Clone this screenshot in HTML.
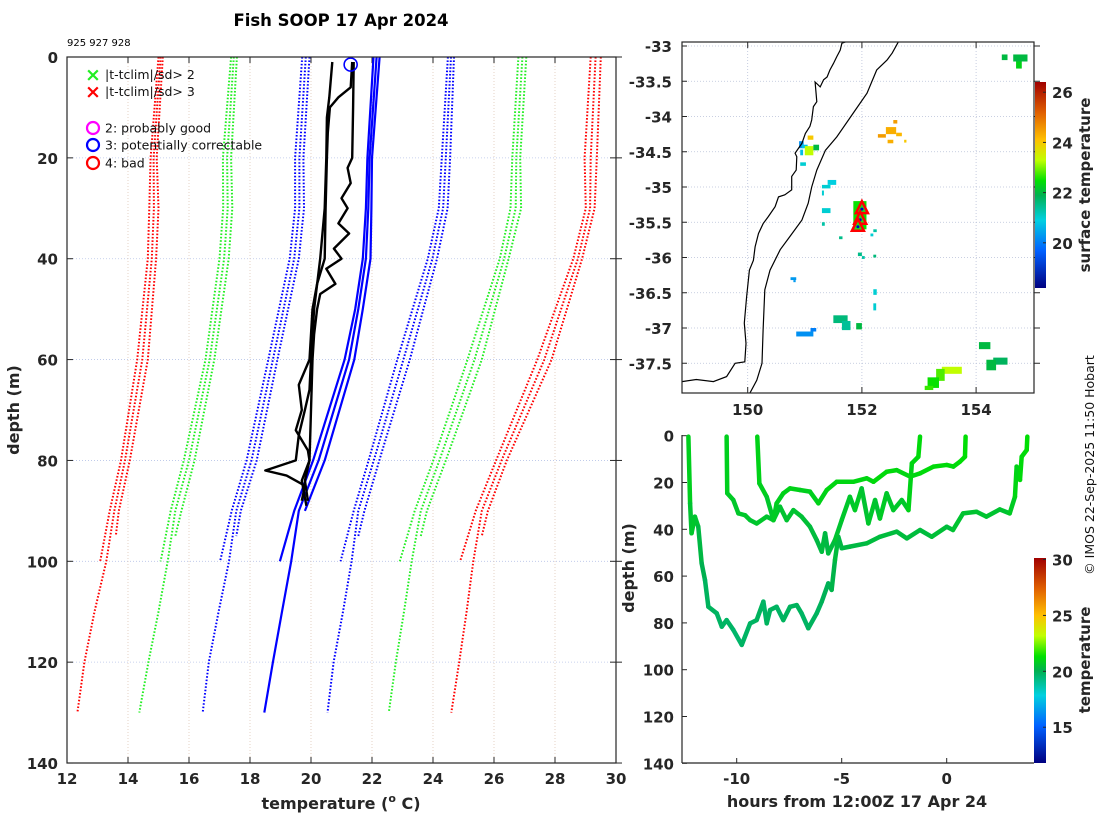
<!DOCTYPE html>
<html><head><meta charset="utf-8"><style>
html,body{margin:0;padding:0;background:#fff;}
svg{display:block;font-family:"DejaVu Sans","Liberation Sans",sans-serif;}
.tk{font-size:15px;font-weight:bold;fill:#262626;}
</style></head><body>
<svg id="fig" width="1100" height="820" viewBox="0 0 1100 820" xmlns="http://www.w3.org/2000/svg">
<defs>
<clipPath id="mainclip"><rect x="67" y="57" width="549" height="706"/></clipPath>
<clipPath id="mapclip"><rect x="682" y="42" width="352" height="351"/></clipPath>
<linearGradient id="cbgrad" x1="0" y1="1" x2="0" y2="0">
<stop offset="0" stop-color="#000080"/><stop offset="0.18" stop-color="#0060ff"/><stop offset="0.33" stop-color="#00d0e0"/><stop offset="0.45" stop-color="#00b050"/><stop offset="0.52" stop-color="#00e000"/><stop offset="0.62" stop-color="#c0ff00"/><stop offset="0.72" stop-color="#ffc000"/><stop offset="0.85" stop-color="#e06000"/><stop offset="1" stop-color="#a00000"/>
</linearGradient>
</defs>
<text x="341" y="26" text-anchor="middle" font-size="16.5" font-weight="bold" fill="#000">Fish SOOP 17 Apr 2024</text>
<text x="67" y="46" font-size="10" fill="#000">925 927 928</text>
<g id="main"></g>
<g id="map"></g>
<g id="ts"></g>
<text transform="translate(1094,465) rotate(-90)" text-anchor="middle" font-size="12.5" fill="#111">© IMOS 22-Sep-2025 11:50 Hobart</text>
</svg>
<script>
// ---------- main profile chart data ----------
const depthTicks=[0,20,40,60,80,100,120,140];
const tempTicks=[12,14,16,18,20,22,24,26,28,30];
const dLong=[0,20,30,40,60,80,90,100,110,120,130];
const dShortA=[0,20,30,40,60,80,90,100];
const dShortC=[0,20,30,40,60,80,90,95];
const redLeftA=[15.0,14.74,14.7,14.65,14.3,13.77,13.4,13.09];
const redLeftB=[15.07,14.84,14.85,14.78,14.47,13.9,13.55,13.29,12.9,12.57,12.34];
const redLeftC=[15.14,14.94,15.0,14.92,14.65,14.06,13.7,13.6];
const greenLeftA=[17.38,17.11,17.12,17.0,16.54,15.83,15.4,15.07];
const greenLeftB=[17.47,17.25,17.27,17.15,16.68,16.0,15.55,15.3,15.0,14.67,14.37];
const greenLeftC=[17.57,17.38,17.42,17.3,16.83,16.18,15.75,15.55];
const blueLeftA=[19.71,19.48,19.48,19.3,18.6,17.89,17.4,17.02];
const blueLeftB=[19.83,19.62,19.62,19.45,18.75,18.05,17.55,17.31,16.97,16.65,16.45];
const blueLeftC=[19.95,19.75,19.77,19.6,18.9,18.22,17.7,17.55];
const blueRightA=[24.49,24.29,24.19,23.83,22.83,21.89,21.4,20.97];
const blueRightB=[24.59,24.42,24.33,23.98,23.03,22.06,21.55,21.33,21.05,20.74,20.54];
const blueRightC=[24.69,24.56,24.48,24.13,23.24,22.24,21.75,21.55];
const greenRightA=[26.8,26.6,26.54,26.19,25.13,24.01,23.4,22.91];
const greenRightB=[26.93,26.73,26.71,26.33,25.36,24.21,23.6,23.3,23.05,22.78,22.55];
const greenRightC=[27.06,26.86,26.89,26.48,25.6,24.42,23.8,23.6];
const redRightA=[29.17,28.97,29.01,28.6,27.42,26.07,25.4,24.89];
const redRightB=[29.33,29.17,29.15,28.75,27.65,26.25,25.6,25.32,25.1,24.86,24.6];
const redRightC=[29.5,29.37,29.3,28.89,27.89,26.42,25.8,25.6];
const dSolidA=[0,20,30,40,50,60,80,90,100];
const dSolidB=[0,20,30,40,50,60,80,90,100,110,120,130];
const dSolidC=[0,20,30,40,50,60,80,90];
const solidA=[22.05,21.85,21.8,21.7,21.45,21.1,20.07,19.45,18.98];
const solidB=[22.15,21.92,21.88,21.8,21.55,21.25,20.25,19.6,19.35,19.05,18.75,18.47];
const solidC=[22.25,22.0,21.98,21.95,21.7,21.42,20.45,19.8];
const p1Depth=[1,8,12,20,30,40,50,60,66,70,75,80,82,83,85,88];
const p1Temp=[20.7,20.6,20.52,20.5,20.45,20.3,20.1,20.0,19.95,19.8,19.6,19.5,18.5,19.2,19.8,19.7];
const p2Depth=[1,6,8,10,15,20,30,40,45,50,55,60,65,70,74,78,80,84,89];
const p2Temp=[21.35,21.3,20.9,20.62,20.55,20.52,20.48,20.45,20.2,20.05,20.0,19.95,19.6,19.7,19.5,19.9,19.95,19.7,19.85];
const p3Depth=[1,10,20,22,25,28,30,33,35,38,40,42,45,47,50,55,60,70,80,84,88];
const p3Temp=[21.4,21.38,21.35,21.2,21.3,21.0,21.2,20.9,21.25,20.75,21.0,20.5,20.8,20.3,20.2,20.1,20.05,20.0,19.95,19.8,19.9];
const flagDepth=[1.5];
const flagTemp=[21.3];

// ---------- map data ----------
const latTicks=[-33,-33.5,-34,-34.5,-35,-35.5,-36,-36.5,-37,-37.5];
const lonTicks=[150,152,154];
const coastLon=[148.85,149.1,149.4,149.63,149.78,149.95,149.97,149.94,149.98,150.03,150.1,150.13,150.19,150.27,150.36,150.48,150.54,150.65,150.77,150.77,150.85,150.86,150.83,150.95,151.01,151.09,151.12,151.15,151.21,151.18,151.27,151.33,151.39,151.44,151.5,151.56,151.62,151.65,151.72];
const coastLat=[-37.76,-37.73,-37.76,-37.69,-37.5,-37.48,-37.22,-36.93,-36.56,-36.18,-36.04,-35.85,-35.66,-35.52,-35.42,-35.28,-35.14,-35.11,-35.04,-34.85,-34.76,-34.57,-34.52,-34.38,-34.24,-34.14,-34.05,-33.86,-33.79,-33.51,-33.58,-33.48,-33.44,-33.34,-33.25,-33.15,-33.06,-32.96,-32.94];
const isoLon=[150.04,150.16,150.25,150.27,150.3,150.39,150.57,150.74,150.95,151.06,151.12,151.21,151.36,151.56,151.85,152.09,152.26,152.44,152.53,152.64];
const isoLat=[-37.92,-37.74,-37.5,-37.03,-36.46,-36.18,-35.89,-35.7,-35.47,-35.23,-35.0,-34.76,-34.48,-34.29,-33.95,-33.67,-33.34,-33.2,-33.1,-32.94];
const sstLon0=[154.45,154.65,154.7,152.55,152.42,152.28,152.6,152.45,152.74,151.05,150.9,150.95,151.0,151.15,150.92,150.92,151.4,151.3,151.3,151.3,151.3,151.85,151.6,152.2,152.15,151.93,152.0,152.2,150.75,150.8,152.2,152.2,151.5,151.65,151.9,150.85,151.1,153.4,153.3,153.15,153.1,154.05,154.3,154.18];
const sstLon1=[154.55,154.9,154.8,152.62,152.6,152.42,152.7,152.55,152.78,151.15,150.98,151.05,151.15,151.25,150.97,151.02,151.55,151.45,151.33,151.45,151.35,152.08,151.66,152.26,152.2,152.0,152.05,152.25,150.85,150.84,152.26,152.25,151.75,151.8,152.0,151.15,151.2,153.75,153.45,153.35,153.25,154.25,154.55,154.35];
const sstLat0=[-33.12,-33.12,-33.22,-34.05,-34.15,-34.25,-34.23,-34.33,-34.33,-34.27,-34.35,-34.4,-34.42,-34.4,-34.47,-34.65,-34.9,-34.97,-35.05,-35.3,-35.5,-35.2,-35.7,-35.6,-35.66,-35.93,-35.98,-35.96,-36.28,-36.32,-36.45,-36.65,-36.82,-36.9,-36.93,-37.05,-37.0,-37.55,-37.58,-37.7,-37.82,-37.2,-37.42,-37.45];
const sstLat1=[-33.2,-33.22,-33.32,-34.1,-34.25,-34.3,-34.28,-34.38,-34.37,-34.33,-34.45,-34.45,-34.55,-34.48,-34.55,-34.7,-34.97,-35.02,-35.12,-35.37,-35.55,-35.6,-35.74,-35.64,-35.7,-35.98,-36.02,-36.0,-36.32,-36.35,-36.53,-36.75,-36.93,-37.03,-37.02,-37.12,-37.05,-37.65,-37.75,-37.85,-37.88,-37.3,-37.52,-37.6];
const sstTemp=[22,22,22.3,24.5,24.3,24.5,24.2,24.3,24,24,20.2,20.8,23.3,22,20.7,21,20.9,21,21,21,21.3,22.5,21.5,21.3,21,21.5,21.3,21.6,20.3,20.3,21,21,21.6,21.4,22,20.2,20,23.3,22.8,22.5,22.7,22,21.8,22];
const shipLon=[152.0,151.97,151.93];
const shipLat=[-35.3,-35.45,-35.55];
const mapCbTicks=[20,22,24,26];

// ---------- time-depth data ----------
const tsDepthTicks=[0,20,40,60,80,100,120,140];
const hourTicks=[-10,-5,0];
const cbTicks=[15,20,25,30];
const s1Hour=[-12.3,-12.22,-12.15,-11.99,-11.83,-11.67,-11.51,-11.35,-10.95,-10.71,-10.48,-10.16,-9.76,-9.36,-9.05,-8.73,-8.57,-8.41,-8.1,-7.78,-7.46,-7.14,-6.91,-6.59,-6.19,-5.95,-5.64,-5.48,-5.32,-5.16,-5.0,-4.61,-3.81,-3.18,-2.38,-1.9,-1.27,-0.71,0.0,0.3,0.78,1.42,1.89,2.53,3.0,3.25,3.33,3.49,3.57,3.81,3.84];
const s1Depth=[0.4,28.9,41.7,34.6,38.9,54.5,61.7,73.1,75.9,81.6,78.8,83.0,89.4,80.2,78.8,70.9,80.2,74.5,73.1,78.8,73.1,72.4,75.9,82.3,75.9,70.9,63.1,65.9,53.1,43.2,48.1,47.4,46.0,43.2,41.0,43.9,40.3,43.2,38.9,40.3,33.2,32.5,34.6,31.5,33.2,26.1,13.2,18.9,9.0,6.1,0.4];
const s1Temp=[21,20.8,20.5,20.6,20.5,20.2,20.0,19.8,19.8,19.7,19.7,19.7,19.6,19.7,19.7,19.8,19.7,19.8,19.8,19.7,19.8,19.8,19.8,19.7,19.8,19.8,19.9,19.9,20.1,20.3,20.2,20.2,20.2,20.3,20.3,20.3,20.3,20.3,20.4,20.3,20.5,20.5,20.5,20.5,20.5,20.7,21,20.9,21.1,21.1,21.2];
const s2Hour=[-10.48,-10.45,-10.16,-9.92,-9.6,-9.36,-9.05,-8.57,-8.25,-7.94,-7.62,-7.3,-6.91,-6.51,-6.19,-5.95,-5.79,-5.64,-5.32,-5.0,-4.61,-4.37,-4.05,-3.73,-3.41,-3.18,-2.86,-2.54,-2.14,-1.82,-1.66,-1.35,-1.27];
const s2Depth=[0.4,24.6,27.5,33.2,34.0,36.1,37.5,34.6,36.1,30.3,36.1,31.8,34.6,38.9,44.6,49.6,41.7,50.3,44.6,36.1,26.1,31.8,22.5,37.5,27.5,35.4,24.6,31.8,27.5,31.8,11.8,9.0,0.4];
const s2Temp=[21.2,20.8,20.7,20.6,20.6,20.6,20.5,20.6,20.5,20.6,20.5,20.5,20.5,20.4,20.3,20.2,20.3,20.2,20.3,20.5,20.6,20.6,20.7,20.5,20.6,20.5,20.7,20.6,20.6,20.6,20.9,21,21.1];
const s3Hour=[-9.02,-8.92,-8.57,-8.25,-8.1,-7.78,-7.46,-6.99,-6.51,-6.11,-5.71,-5.24,-4.45,-3.81,-3.49,-2.86,-2.38,-1.74,-1.27,-0.63,0.0,0.32,0.63,0.87,0.9];
const s3Depth=[0.4,20.4,26.1,36.1,28.9,24.6,22.5,23.2,23.9,28.9,23.2,19.7,19.7,18.2,19.7,15.4,14.7,17.5,16.1,13.2,12.5,13.2,11.1,9.0,0.4];
const s3Temp=[21.2,20.9,20.8,20.6,20.7,20.8,20.9,20.9,20.8,20.8,20.9,21,21,21,21,21.1,21.1,21,21,21.1,21.1,21.1,21.1,21.2,21.2];

// ---------- helpers ----------
const NS="http://www.w3.org/2000/svg";
function mk(parent,tag,attrs,text){const e=document.createElementNS(NS,tag);for(const k in attrs)e.setAttribute(k,attrs[k]);if(text!==undefined)e.textContent=text;parent.appendChild(e);return e;}
const stops=[[0,[0,0,128]],[0.18,[0,96,255]],[0.33,[0,208,224]],[0.45,[0,176,80]],[0.52,[0,224,0]],[0.62,[192,255,0]],[0.72,[255,192,0]],[0.85,[224,96,0]],[1,[160,0,0]]];
function cmap(v){v=Math.max(0,Math.min(1,v));for(let i=1;i<stops.length;i++){if(v<=stops[i][0]){const a=stops[i-1],b=stops[i];const t=(v-a[0])/(b[0]-a[0]);const c=a[1].map((x,j)=>Math.round(x+(b[1][j]-x)*t));return `rgb(${c[0]},${c[1]},${c[2]})`;}}return 'rgb(160,0,0)';}

// ---------- main chart ----------
const xT=t=>67+(t-12)*30.5, yD=d=>57+d*5.043;
const main=document.getElementById('main');
depthTicks.forEach(d=>{
  const g=mk(main,'line',{x1:67,x2:616,y1:yD(d),y2:yD(d),stroke:'#b8c4e8','stroke-width':0.8,'stroke-dasharray':'1 2'});
  
  
  mk(main,'line',{x1:67,x2:73,y1:yD(d),y2:yD(d),stroke:'#262626','stroke-width':1});
  mk(main,'line',{x1:610,x2:622,y1:yD(d),y2:yD(d),stroke:'#262626','stroke-width':1});
  const t=mk(main,'text',{x:58,y:yD(d)+6,'text-anchor':'end',class:'tk'},String(d));
  
  
});
tempTicks.forEach(v=>{
  const g=mk(main,'line',{x1:xT(v),x2:xT(v),y1:57,y2:763,stroke:'#e0c8b8','stroke-width':0.8,'stroke-dasharray':'1 2'});
  
  
  mk(main,'line',{x1:xT(v),x2:xT(v),y1:757,y2:763,stroke:'#262626'});
  mk(main,'line',{x1:xT(v),x2:xT(v),y1:57,y2:63,stroke:'#262626'});
  const t=mk(main,'text',{x:xT(v),y:784,'text-anchor':'middle',class:'tk'},String(v));
  
  
});
const plotG=mk(main,'g',{'clip-path':'url(#mainclip)'});
function line(g,ds,ts,color,dotted,w,name){
  const pts=ds.map((d,i)=>xT(ts[i]).toFixed(1)+','+yD(d).toFixed(1)).join(' ');
  const p=mk(g,'polyline',{points:pts,fill:'none',stroke:color,'stroke-width':w,'stroke-linejoin':'round'});
  if(dotted)p.setAttribute('stroke-dasharray','1.6 1.8');
  
  
}
const R='#ff0000',G='#22ee22',B='#0000ff';
[[dShortA,redLeftA,R],[dLong,redLeftB,R],[dShortC,redLeftC,R],
 [dShortA,greenLeftA,G],[dLong,greenLeftB,G],[dShortC,greenLeftC,G],
 [dShortA,blueLeftA,B],[dLong,blueLeftB,B],[dShortC,blueLeftC,B],
 [dShortA,blueRightA,B],[dLong,blueRightB,B],[dShortC,blueRightC,B],
 [dShortA,greenRightA,G],[dLong,greenRightB,G],[dShortC,greenRightC,G],
 [dShortA,redRightA,R],[dLong,redRightB,R],[dShortC,redRightC,R]].forEach(a=>line(plotG,a[0],a[1],a[2],true,2,'climatology-limit-line'));
line(plotG,dSolidA,solidA,B,false,2.2,'climatology-mean-line');
line(plotG,dSolidB,solidB,B,false,2.2,'climatology-mean-line');
line(plotG,dSolidC,solidC,B,false,2.2,'climatology-mean-line');
line(plotG,p1Depth,p1Temp,'#000',false,2.4,'temperature-profile');
line(plotG,p2Depth,p2Temp,'#000',false,2.4,'temperature-profile');
line(plotG,p3Depth,p3Temp,'#000',false,2.4,'temperature-profile');
flagDepth.forEach((d,i)=>{
  const c=mk(plotG,'circle',{cx:xT(flagTemp[i]),cy:yD(d),r:6.5,fill:'none',stroke:'#0000ff','stroke-width':1.6});
  
  
});
mk(main,'rect',{x:67,y:57,width:549,height:706,fill:'none',stroke:'#262626','stroke-width':1.2});
// legend
const leg=mk(main,'g',{'font-size':'12.5',fill:'#111'});


mk(leg,'text',{x:93,y:81,'text-anchor':'middle',fill:'#22ee22','font-size':'19','font-weight':'bold'},'×');
mk(leg,'text',{x:105,y:79},'|t-tclim|/sd> 2');
mk(leg,'text',{x:93,y:98,'text-anchor':'middle',fill:'#ff0000','font-size':'19','font-weight':'bold'},'×');
mk(leg,'text',{x:105,y:96},'|t-tclim|/sd> 3');
[['#ff00ff',128,'2: probably good'],['#0000ff',145,'3: potentially correctable'],['#ff0000',163,'4: bad']].forEach(e=>{
  mk(leg,'circle',{cx:93,cy:e[1],r:6,fill:'none',stroke:e[0],'stroke-width':2.2});
  const t=mk(leg,'text',{x:105,y:e[1]+4.5},e[2]);
  
  
});
const yl=mk(main,'text',{transform:'translate(19,410) rotate(-90)','text-anchor':'middle','font-size':'16','font-weight':'bold',fill:'#262626'},'depth (m)');


const xl=mk(main,'text',{x:341,y:809,'text-anchor':'middle','font-size':'16','font-weight':'bold',fill:'#262626'});


xl.innerHTML='temperature (<tspan dy="-7" font-size="11">o</tspan><tspan dy="7"> C)</tspan>';

// ---------- map ----------
const xL=l=>747.7+(l-150)*57.1, yL=l=>46+(-33-l)*70.5;
const map=document.getElementById('map');
latTicks.forEach(l=>{
  mk(map,'line',{x1:682,x2:1034,y1:yL(l),y2:yL(l),stroke:'#b8c0d8','stroke-width':0.8,'stroke-dasharray':'1 2'});
  mk(map,'line',{x1:1034,x2:1040,y1:yL(l),y2:yL(l),stroke:'#262626'});
  mk(map,'line',{x1:682,x2:687,y1:yL(l),y2:yL(l),stroke:'#262626'});
  const t=mk(map,'text',{x:672,y:yL(l)+6,'text-anchor':'end',class:'tk'},String(l));
  
  
});
lonTicks.forEach(l=>{
  mk(map,'line',{x1:xL(l),x2:xL(l),y1:42,y2:393,stroke:'#b8c0d8','stroke-width':0.8,'stroke-dasharray':'1 2'});
  mk(map,'line',{x1:xL(l),x2:xL(l),y1:387,y2:393,stroke:'#262626'});
  mk(map,'line',{x1:xL(l),x2:xL(l),y1:42,y2:48,stroke:'#262626'});
  const t=mk(map,'text',{x:xL(l),y:415,'text-anchor':'middle',class:'tk'},String(l));
  
  
});
const mapG=mk(map,'g',{'clip-path':'url(#mapclip)'});
sstTemp.forEach((t,i)=>{
  const r=mk(mapG,'rect',{x:xL(sstLon0[i]),y:yL(sstLat0[i]),width:Math.max(2,xL(sstLon1[i])-xL(sstLon0[i])),height:Math.max(2,yL(sstLat1[i])-yL(sstLat0[i])),fill:cmap((t-18.2)/8.2)});
  
  
});
const coast=mk(mapG,'polyline',{points:coastLon.map((l,i)=>xL(l).toFixed(1)+','+yL(coastLat[i]).toFixed(1)).join(' '),fill:'none',stroke:'#000','stroke-width':1.2});


const iso=mk(mapG,'polyline',{points:isoLon.map((l,i)=>xL(l).toFixed(1)+','+yL(isoLat[i]).toFixed(1)).join(' '),fill:'none',stroke:'#000','stroke-width':1.2});


shipLon.forEach((l,i)=>{
  const x=xL(l),y=yL(shipLat[i]);
  const tr=mk(mapG,'polygon',{points:`${x},${y-7} ${x-6},${y+5} ${x+6},${y+5}`,fill:'#22dd22',stroke:'#ff0000','stroke-width':2.5});
  
  
  mk(mapG,'circle',{cx:x,cy:y+1,r:1.5,fill:'#0000cc'});
});
mk(map,'rect',{x:682,y:42,width:352,height:351,fill:'none',stroke:'#262626','stroke-width':1.2});
const mcb=mk(map,'rect',{x:1035,y:82,width:11,height:206,fill:'url(#cbgrad)'});


const mcbY=t=>288-(t-18.2)*25.1;
mapCbTicks.forEach(t=>{
  mk(map,'line',{x1:1043,x2:1046,y1:mcbY(t),y2:mcbY(t),stroke:'#262626'});
  const e=mk(map,'text',{x:1052,y:mcbY(t)+6,class:'tk'},String(t));
  
  
});
const mcl=mk(map,'text',{transform:'translate(1090,185) rotate(-90)','text-anchor':'middle','font-size':'15','font-weight':'bold',fill:'#262626'},'surface temperature');



// ---------- time-depth ----------
const xH=h=>946.7+h*21, yB=d=>435.7+d*2.34;
const ts=document.getElementById('ts');
tsDepthTicks.forEach(d=>{
  mk(ts,'line',{x1:682,x2:687,y1:yB(d),y2:yB(d),stroke:'#262626'});
  const t=mk(ts,'text',{x:674,y:yB(d)+6,'text-anchor':'end',class:'tk'},String(d));
  
  
});
hourTicks.forEach(h=>{
  mk(ts,'line',{x1:xH(h),x2:xH(h),y1:758,y2:763,stroke:'#262626'});
  const t=mk(ts,'text',{x:xH(h),y:784,'text-anchor':'middle',class:'tk'},String(h));
  
  
});
function series(hs,ds,tp,name){
  const g=mk(ts,'g',{});
  
  
  for(let i=1;i<hs.length;i++){
    mk(g,'line',{x1:xH(hs[i-1]),y1:yB(ds[i-1]),x2:xH(hs[i]),y2:yB(ds[i]),stroke:cmap((tp[Math.min(i,tp.length-1)]-11.8)/18.2),'stroke-width':4.5,'stroke-linecap':'round'});
  }
}
series(s1Hour,s1Depth,s1Temp,'depth-track-1');
series(s2Hour,s2Depth,s2Temp,'depth-track-2');
series(s3Hour,s3Depth,s3Temp,'depth-track-3');
mk(ts,'line',{x1:682,x2:682,y1:435,y2:763,stroke:'#262626','stroke-width':1.2});
mk(ts,'line',{x1:682,x2:1034,y1:763,y2:763,stroke:'#262626','stroke-width':1.2});
const cb=mk(ts,'rect',{x:1034,y:558,width:12,height:205,fill:'url(#cbgrad)'});


const cbY=t=>763-(t-11.8)*11.18;
cbTicks.forEach(t=>{
  mk(ts,'line',{x1:1043,x2:1046,y1:cbY(t),y2:cbY(t),stroke:'#262626'});
  const e=mk(ts,'text',{x:1052,y:cbY(t)+6,class:'tk'},String(t));
  
  
});
const tcl=mk(ts,'text',{transform:'translate(1090,660) rotate(-90)','text-anchor':'middle','font-size':'15','font-weight':'bold',fill:'#262626'},'temperature');


const tyl=mk(ts,'text',{transform:'translate(634,568) rotate(-90)','text-anchor':'middle','font-size':'16','font-weight':'bold',fill:'#262626'},'depth (m)');


const txl=mk(ts,'text',{x:857,y:807,'text-anchor':'middle','font-size':'16','font-weight':'bold',fill:'#262626'},'hours from 12:00Z 17 Apr 24');


</script>
</body></html>
